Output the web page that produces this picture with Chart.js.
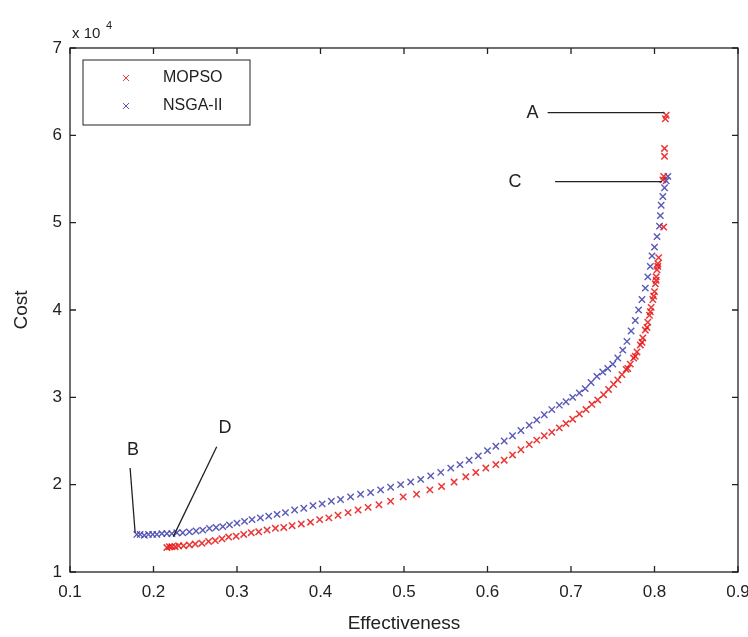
<!DOCTYPE html>
<html>
<head>
<meta charset="utf-8">
<script src="https://cdn.jsdelivr.net/npm/chart.js@4.4.0/dist/chart.umd.min.js"></script>
<style>
  html, body { margin: 0; padding: 0; background: #fff; }
  #wrap { width: 748px; height: 637px; }
</style>
</head>
<body>
<div id="wrap"><canvas id="paretoChart"></canvas></div>
<script>
// Cost is in units of 10^4
var mopsoX = [0.216, 0.219, 0.222, 0.226, 0.230, 0.236, 0.243, 0.250, 0.258, 0.266, 0.274, 0.282, 0.290, 0.299,
  0.308, 0.317, 0.326, 0.336, 0.346, 0.356, 0.366, 0.377, 0.388, 0.399, 0.410, 0.421, 0.433, 0.445, 0.457, 0.470,
  0.484, 0.499, 0.515, 0.531, 0.545, 0.560, 0.574, 0.586, 0.598, 0.610, 0.620, 0.630, 0.640, 0.650, 0.659, 0.668,
  0.677, 0.686, 0.694, 0.702, 0.710, 0.718, 0.725, 0.732, 0.739, 0.745, 0.751, 0.756, 0.761, 0.766, 0.771, 0.775,
  0.779, 0.783, 0.786, 0.789, 0.792, 0.794, 0.796, 0.798, 0.800, 0.801, 0.802, 0.803, 0.804, 0.805, 0.811, 0.810,
  0.811, 0.812, 0.812, 0.813, 0.814,
  0.768, 0.777, 0.785, 0.791, 0.795, 0.799, 0.802, 0.804];
var mopsoY = [1.28, 1.29, 1.29, 1.29, 1.30, 1.30, 1.31, 1.32, 1.33, 1.35, 1.36, 1.38, 1.40, 1.41,
  1.43, 1.45, 1.46, 1.48, 1.50, 1.51, 1.53, 1.55, 1.57, 1.60, 1.62, 1.65, 1.68, 1.71, 1.74, 1.77,
  1.81, 1.86, 1.89, 1.94, 1.98, 2.03, 2.09, 2.14, 2.19, 2.23, 2.28, 2.34, 2.40, 2.46, 2.51, 2.56,
  2.60, 2.65, 2.70, 2.75, 2.81, 2.86, 2.92, 2.97, 3.03, 3.09, 3.15, 3.20, 3.26, 3.32, 3.38, 3.45,
  3.52, 3.60, 3.68, 3.77, 3.86, 3.94, 4.03, 4.12, 4.21, 4.30, 4.38, 4.46, 4.53, 4.60, 4.95, 5.49,
  5.53, 5.76, 5.85, 6.19, 6.23,
  3.33, 3.47, 3.63, 3.80, 3.98, 4.16, 4.34, 4.50];

var nsgaX = [0.180, 0.184, 0.189, 0.194, 0.199, 0.204, 0.210, 0.216, 0.222, 0.228, 0.235, 0.243, 0.251, 0.259,
  0.267, 0.275, 0.283, 0.291, 0.300, 0.309, 0.318, 0.328, 0.338, 0.348, 0.358, 0.369, 0.380, 0.391, 0.402, 0.413,
  0.424, 0.436, 0.448, 0.460, 0.472, 0.484, 0.496, 0.508, 0.520, 0.532, 0.544, 0.556, 0.567, 0.578, 0.589, 0.600,
  0.610, 0.620, 0.630, 0.640, 0.650, 0.659, 0.668, 0.677, 0.686, 0.694, 0.702, 0.710, 0.717, 0.724, 0.731, 0.738,
  0.744, 0.750, 0.756, 0.762, 0.767, 0.772, 0.777, 0.781, 0.785, 0.789, 0.792, 0.795, 0.797, 0.800, 0.803, 0.806,
  0.807, 0.808, 0.810, 0.812, 0.814, 0.816];
var nsgaY = [1.43, 1.43, 1.42, 1.43, 1.43, 1.43, 1.44, 1.44, 1.44, 1.45, 1.45, 1.46, 1.47, 1.48,
  1.50, 1.51, 1.52, 1.54, 1.56, 1.58, 1.60, 1.62, 1.64, 1.66, 1.68, 1.71, 1.73, 1.76, 1.78, 1.81,
  1.83, 1.86, 1.89, 1.91, 1.94, 1.97, 2.00, 2.03, 2.06, 2.10, 2.14, 2.19, 2.23, 2.28, 2.33, 2.39,
  2.44, 2.50, 2.56, 2.62, 2.68, 2.74, 2.80, 2.86, 2.91, 2.95, 3.00, 3.05, 3.10, 3.17, 3.24, 3.29,
  3.33, 3.38, 3.45, 3.54, 3.64, 3.76, 3.88, 4.00, 4.12, 4.25, 4.38, 4.50, 4.62, 4.72, 4.84, 4.96,
  5.08, 5.20, 5.30, 5.40, 5.48, 5.53];

var xTicks = [0.1, 0.2, 0.3, 0.4, 0.5, 0.6, 0.7, 0.8, 0.9];
var yTicks = [1, 2, 3, 4, 5, 6, 7];
var seriesNames = ['MOPSO', 'NSGA-II'];

// annotation labels: text position and leader line, in data units
var notes = [
  { t: 'A', tx: 0.654, ty: 6.26, x1: 0.672, y1: 6.26, x2: 0.812, y2: 6.26 },
  { t: 'C', tx: 0.633, ty: 5.47, x1: 0.681, y1: 5.47, x2: 0.809, y2: 5.47 },
  { t: 'B', tx: 0.1755, ty: 2.40, x1: 0.172, y1: 2.19, x2: 0.178, y2: 1.45 },
  { t: 'D', tx: 0.2856, ty: 2.65, x1: 0.2757, y1: 2.435, x2: 0.2237, y2: 1.405 }
];

var RED = 'rgba(232, 20, 20, 0.85)';
var BLUE = 'rgba(60, 60, 170, 0.85)';
var FONT = '"Liberation Sans", Arial, sans-serif';

function toPoints(xs, ys) {
  return xs.map(function (x, i) { return { x: x, y: ys[i] }; });
}

var matlabBox = {
  id: 'matlabBox',
  afterDraw: function (chart) {
    var ctx = chart.ctx;
    var a = chart.chartArea;
    var xs = chart.scales.x, ys = chart.scales.y;
    ctx.save();
    ctx.strokeStyle = '#222';
    ctx.lineWidth = 1.3;
    ctx.strokeRect(a.left, a.top, a.right - a.left, a.bottom - a.top);

    // inward ticks on all sides
    ctx.beginPath();
    xTicks.forEach(function (v) {
      var p = xs.getPixelForValue(v);
      ctx.moveTo(p, a.bottom); ctx.lineTo(p, a.bottom - 6);
      ctx.moveTo(p, a.top); ctx.lineTo(p, a.top + 6);
    });
    yTicks.forEach(function (v) {
      var p = ys.getPixelForValue(v);
      ctx.moveTo(a.left, p); ctx.lineTo(a.left + 6, p);
      ctx.moveTo(a.right, p); ctx.lineTo(a.right - 6, p);
    });
    ctx.stroke();

    // exponent label
    ctx.fillStyle = '#222';
    ctx.textBaseline = 'alphabetic';
    ctx.textAlign = 'left';
    ctx.font = '15px ' + FONT;
    ctx.fillText('x 10', a.left + 2, a.top - 10);
    ctx.font = '11px ' + FONT;
    ctx.fillText('4', a.left + 36, a.top - 19);

    // legend
    ctx.lineWidth = 1;
    ctx.strokeStyle = '#222';
    ctx.strokeRect(83, 60, 167, 65);
    var cols = [RED, BLUE];
    seriesNames.forEach(function (name, i) {
      var cy = 78 + i * 28;
      ctx.strokeStyle = cols[i];
      ctx.lineWidth = 1;
      ctx.beginPath();
      ctx.moveTo(123, cy - 3); ctx.lineTo(129, cy + 3);
      ctx.moveTo(129, cy - 3); ctx.lineTo(123, cy + 3);
      ctx.stroke();
      ctx.fillStyle = '#222';
      ctx.font = '16px ' + FONT;
      ctx.textBaseline = 'middle';
      ctx.fillText(name, 163, cy);
    });

    // A/B/C/D notes
    ctx.strokeStyle = '#222';
    ctx.lineWidth = 1.3;
    ctx.font = '18px ' + FONT;
    ctx.textAlign = 'center';
    ctx.textBaseline = 'middle';
    notes.forEach(function (n) {
      ctx.beginPath();
      ctx.moveTo(xs.getPixelForValue(n.x1), ys.getPixelForValue(n.y1));
      ctx.lineTo(xs.getPixelForValue(n.x2), ys.getPixelForValue(n.y2));
      ctx.stroke();
      ctx.fillText(n.t, xs.getPixelForValue(n.tx), ys.getPixelForValue(n.ty));
    });
    ctx.restore();
  }
};

new Chart(document.getElementById('paretoChart'), {
  type: 'scatter',
  data: {
    datasets: [{
      label: seriesNames[0],
      data: toPoints(mopsoX, mopsoY),
      pointStyle: 'crossRot',
      pointRadius: 4.5,
      borderWidth: 1.5,
      borderColor: RED,
      backgroundColor: RED
    }, {
      label: seriesNames[1],
      data: toPoints(nsgaX, nsgaY),
      pointStyle: 'crossRot',
      pointRadius: 4.5,
      borderWidth: 1.4,
      borderColor: BLUE,
      backgroundColor: BLUE
    }]
  },
  options: {
    responsive: true,
    maintainAspectRatio: false,
    animation: false,
    layout: { padding: { top: 48, right: 10, left: 0, bottom: 0 } },
    plugins: { legend: { display: false }, tooltip: { enabled: false } },
    scales: {
      x: {
        type: 'linear',
        min: 0.1, max: 0.9,
        afterBuildTicks: function (s) { s.ticks = xTicks.map(function (v) { return { value: v }; }); },
        afterFit: function (s) { s.height = 65; s.paddingLeft = 0; s.paddingRight = 0; },
        grid: { display: false, drawTicks: false },
        border: { display: false },
        ticks: {
          padding: 10,
          color: '#222',
          font: { family: FONT, size: 17 },
          callback: function (v) { return v.toFixed(1); }
        },
        title: {
          display: true,
          text: 'Effectiveness',
          color: '#222',
          font: { family: FONT, size: 19 },
          padding: { top: 0, bottom: 2 }
        }
      },
      y: {
        min: 1, max: 7,
        afterBuildTicks: function (s) { s.ticks = yTicks.map(function (v) { return { value: v }; }); },
        afterFit: function (s) { s.width = 70; s.paddingTop = 0; s.paddingBottom = 0; },
        grid: { display: false, drawTicks: false },
        border: { display: false },
        ticks: {
          padding: 8,
          color: '#222',
          font: { family: FONT, size: 17 }
        },
        title: {
          display: true,
          text: 'Cost',
          color: '#222',
          font: { family: FONT, size: 19 },
          padding: { top: 10, bottom: 0 }
        }
      }
    }
  },
  plugins: [matlabBox]
});
</script>
</body>
</html>
